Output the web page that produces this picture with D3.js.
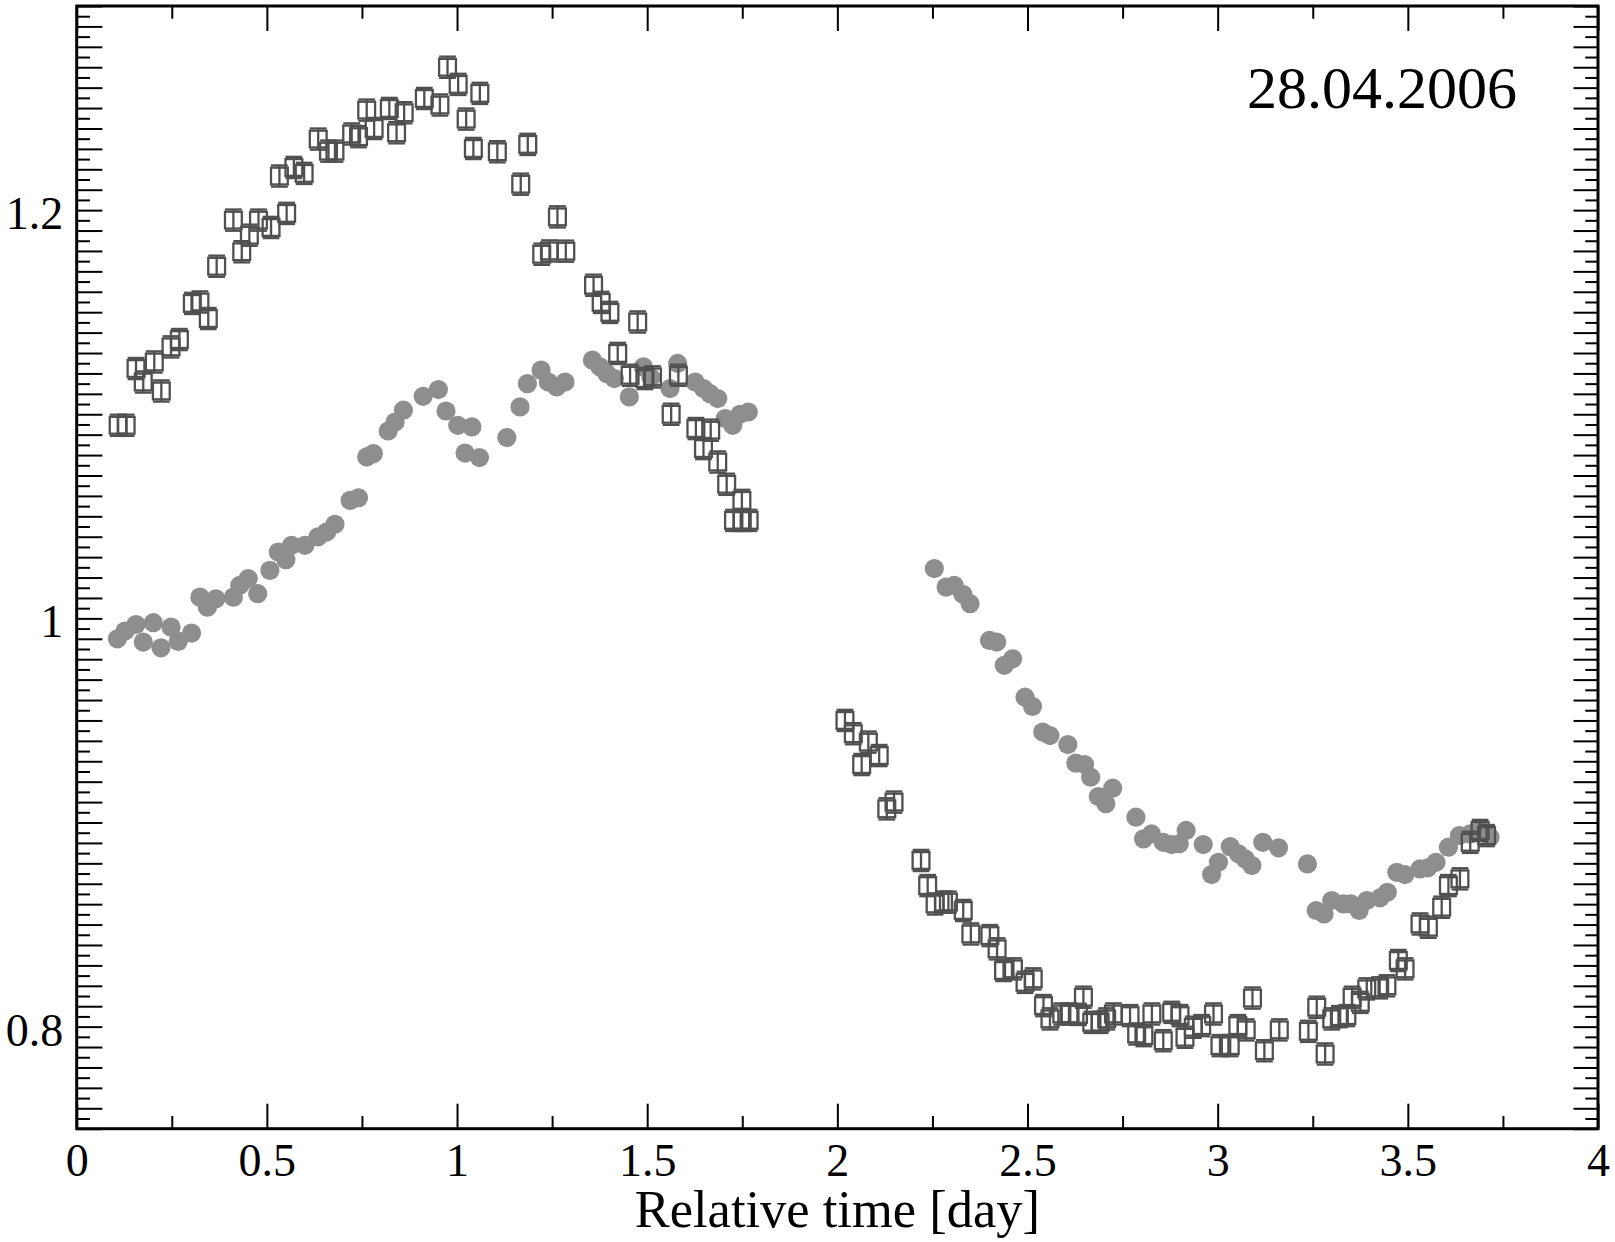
<!DOCTYPE html>
<html><head><meta charset="utf-8">
<script src="https://cdn.jsdelivr.net/npm/d3@7"></script>
<style>html,body{margin:0;padding:0;background:#fff;} svg{display:block;}</style>
</head><body>
<svg id="chart" width="1615" height="1242"></svg>
<script>
// ---- data ----
const squareTime = [0.109,0.130,0.156,0.175,0.204,0.2225,0.248,0.270,0.304,0.324,0.346,0.368,0.412,0.434,0.454,0.478,0.511,0.533,0.552,0.571,0.598,0.635,0.662,0.679,0.723,0.741,0.7625,0.782,0.822,0.841,0.861,0.914,0.955,0.975,1.003,1.024,1.043,1.060,1.106,1.1675,1.186,1.2227,1.243,1.264,1.286,1.359,1.379,1.402,1.4225,1.455,1.475,1.494,1.514,1.563,1.582,1.628,1.648,1.667,1.6855,1.709,1.727,1.749,1.750,1.768,
  2.020,2.042,2.064,2.0815,2.110,2.130,2.149,2.220,2.2375,2.257,2.279,2.292,2.331,2.351,2.401,2.420,2.437,2.463,2.4935,2.515,2.542,2.559,2.590,2.609,2.634,2.647,2.669,2.691,2.708,2.726,2.7696,2.787,2.806,2.827,2.857,2.879,2.901,2.914,2.936,2.958,2.989,3.006,3.033,3.053,3.075,3.0915,3.1228,3.162,3.2385,3.2605,3.2825,3.300,3.320,3.3397,3.3535,3.375,3.392,3.426,3.445,3.475,3.4927,3.532,3.554,3.589,3.6067,3.637,3.664,3.690,3.707];
const squareFlux = [1.0946,1.0946,1.1224,1.1158,1.1256,1.1114,1.133,1.1366,1.1543,1.155,1.1469,1.1725,1.1951,1.1796,1.1877,1.1951,1.1915,1.2167,1.1984,1.2209,1.218,1.2348,1.2289,1.2289,1.2373,1.236,1.249,1.240,1.2498,1.2379,1.2477,1.2547,1.2515,1.270,1.2616,1.2446,1.2302,1.2572,1.2286,1.2127,1.2322,1.1784,1.180,1.1967,1.1799,1.1632,1.1548,1.1499,1.1298,1.1191,1.1452,1.1175,1.1183,1.100,1.1191,1.093,1.0832,1.0922,1.0766,1.0657,1.048,1.0578,1.048,1.048,
  0.950,0.9435,0.9284,0.9394,0.9328,0.9067,0.910,0.8814,0.8691,0.8601,0.861,0.861,0.8569,0.8454,0.8446,0.8381,0.8275,0.8283,0.8217,0.8234,0.8103,0.8038,0.8062,0.8062,0.806,0.8144,0.8021,0.8021,0.8038,0.8062,0.8054,0.7964,0.7956,0.8062,0.7931,0.807,0.8054,0.7948,0.7997,0.8005,0.8062,0.7907,0.7907,0.8005,0.7984,0.814,0.7882,0.7984,0.7977,0.8095,0.7866,0.8038,0.8049,0.8054,0.8144,0.8119,0.8185,0.819,0.820,0.8324,0.8283,0.8503,0.8487,0.8585,0.8691,0.8724,0.8903,0.8961,0.8936];
const squareErr = 0.0052;

const circleTime = [0.107,0.127,0.156,0.175,0.2015,0.2217,0.248,0.267,0.302,0.324,0.3435,0.366,0.412,0.429,0.451,0.476,0.508,0.530,0.550,0.565,0.600,0.634,0.657,0.679,0.719,0.741,0.7625,0.780,0.819,0.837,0.859,0.911,0.951,0.971,1.002,1.021,1.039,1.059,1.131,1.1657,1.185,1.221,1.240,1.262,1.284,1.356,1.376,1.394,1.4137,1.453,1.49,1.51,1.560,1.580,1.626,1.648,1.665,1.6855,1.705,1.725,1.744,1.766,
  2.255,2.286,2.307,2.330,2.349,2.400,2.419,2.439,2.461,2.4935,2.513,2.540,2.559,2.606,2.627,2.650,2.666,2.686,2.706,2.724,2.785,2.805,2.826,2.857,2.879,2.899,2.917,2.962,2.984,3.002,3.033,3.0545,3.072,3.090,3.1185,3.160,3.236,3.259,3.2797,3.300,3.3305,3.350,3.372,3.392,3.427,3.446,3.471,3.4925,3.532,3.5525,3.574,3.6066,3.6355,3.664,3.690,3.716];
const circleFlux = [0.990,0.9938,0.997,0.9884,0.9979,0.9856,0.9957,0.9887,0.9928,1.0104,1.0055,1.0096,1.0104,1.0162,1.0195,1.0121,1.0235,1.0325,1.0288,1.0358,1.0358,1.0399,1.0423,1.0461,1.0578,1.0591,1.0791,1.0807,1.0918,1.0962,1.102,1.1088,1.1121,1.1016,1.0946,1.081,1.0938,1.0788,1.0886,1.1036,1.115,1.1216,1.1158,1.1134,1.1158,1.1265,1.1232,1.1199,1.1175,1.1085,1.1232,1.118,1.1126,1.1249,1.1158,1.1126,1.1101,1.1077,1.0979,1.0946,1.100,1.1011,
  1.0244,1.0153,1.0162,1.0118,1.0072,0.9892,0.9884,0.977,0.9802,0.9614,0.9569,0.9443,0.9426,0.9382,0.9291,0.9284,0.9222,0.9127,0.9092,0.9168,0.9026,0.892,0.8944,0.8903,0.8892,0.8896,0.8961,0.8892,0.8745,0.8805,0.8882,0.8847,0.8822,0.8789,0.8903,0.8876,0.8797,0.8569,0.8552,0.8618,0.8601,0.8601,0.8569,0.8618,0.8631,0.8658,0.8756,0.8745,0.8773,0.8778,0.8805,0.8879,0.8936,0.8944,0.8961,0.8928];

const xTickValues = [0,0.5,1,1.5,2,2.5,3,3.5,4];
const xTickLabels = ["0","0.5","1","1.5","2","2.5","3","3.5","4"];
const yTickValues = [0.8,1.0,1.2];
const yTickLabels = ["0.8","1","1.2"];
const dateLabel = "28.04.2006";
const xTitle = "Relative time [day]";

// ---- layout ----
const FONT = "'Liberation Serif','Times New Roman',Times,serif";
const L = 76.7, R = 1598, T = 6, B = 1128.7;
const x = d3.scaleLinear().domain([0, 4]).range([L, R]);
const y = d3.scaleLinear().domain([0.75, 1.3]).range([B, T]);
const svg = d3.select("#chart");

const xMajor = xTickValues;
const xMinor = d3.range(0, 16).map(i => i * 0.25 + 0.25).filter(v => v < 4 && (v * 2) % 1 !== 0);
const yMajor = d3.range(75, 131).map(i => i / 100);
const yMinor = d3.range(75, 130).map(i => (i + 0.5) / 100);
const labelOf = (vals, labs) => v => { const k = vals.findIndex(u => Math.abs(u - v) < 1e-9); return k < 0 ? "" : labs[k]; };

function styleAxis(g, w) {
  g.select(".domain").remove();
  g.selectAll(".tick line").attr("stroke", "#000").attr("stroke-width", w);
  g.selectAll("text").attr("font-family", FONT).attr("fill", "#000");
}

// bottom
svg.append("g").attr("transform", `translate(0,${B})`)
  .call(d3.axisBottom(x).tickValues(xMinor).tickSizeInner(-12.7).tickFormat(""))
  .call(g => styleAxis(g, 2));
svg.append("g").attr("transform", `translate(0,${B})`)
  .call(d3.axisBottom(x).tickValues(xMajor).tickSizeInner(-25).tickPadding(15).tickFormat(labelOf(xTickValues, xTickLabels)))
  .call(g => styleAxis(g, 2))
  .call(g => g.selectAll("text").attr("font-size", 46));
// top
svg.append("g").attr("transform", `translate(0,${T})`)
  .call(d3.axisTop(x).tickValues(xMinor).tickSizeInner(-12.7).tickFormat(""))
  .call(g => styleAxis(g, 2));
svg.append("g").attr("transform", `translate(0,${T})`)
  .call(d3.axisTop(x).tickValues(xMajor).tickSizeInner(-25).tickFormat(""))
  .call(g => styleAxis(g, 2));
// left
svg.append("g").attr("transform", `translate(${L},0)`)
  .call(d3.axisLeft(y).tickValues(yMinor).tickSizeInner(-13.3).tickFormat(""))
  .call(g => styleAxis(g, 2));
svg.append("g").attr("transform", `translate(${L},0)`)
  .call(d3.axisLeft(y).tickValues(yMajor).tickSizeInner(-25.7).tickPadding(13.4).tickFormat(labelOf(yTickValues, yTickLabels)))
  .call(g => styleAxis(g, 2))
  .call(g => g.selectAll("text").attr("font-size", 46).attr("dy", "0.4em"));
// right
svg.append("g").attr("transform", `translate(${R},0)`)
  .call(d3.axisRight(y).tickValues(yMinor).tickSizeInner(-12.7).tickFormat(""))
  .call(g => styleAxis(g, 2));
svg.append("g").attr("transform", `translate(${R},0)`)
  .call(d3.axisRight(y).tickValues(yMajor).tickSizeInner(-24.5).tickFormat(""))
  .call(g => styleAxis(g, 2));

// frame
svg.append("rect").attr("x", L).attr("y", T).attr("width", R - L).attr("height", B - T)
  .attr("fill", "none").attr("stroke", "#000").attr("stroke-width", 3);

// circles
const circles = circleTime.map((t, i) => ({ t, v: circleFlux[i] }));
svg.append("g").selectAll("circle").data(circles).join("circle")
  .attr("cx", d => x(d.t)).attr("cy", d => y(d.v)).attr("r", 9.6)
  .attr("fill", "#8e8e8e");

// squares with error bars
const squares = squareTime.map((t, i) => ({ t, v: squareFlux[i] }));
const sq = svg.append("g").attr("fill", "none").attr("stroke", "#505050").attr("stroke-width", 2.3);
const hs = 8.4, cw = 8.4;
const gs = sq.selectAll("g").data(squares).join("g");
gs.append("rect").attr("x", d => x(d.t) - hs).attr("y", d => y(d.v) - hs).attr("width", 2 * hs).attr("height", 2 * hs);
gs.append("line").attr("x1", d => x(d.t)).attr("x2", d => x(d.t)).attr("y1", d => y(d.v + squareErr)).attr("y2", d => y(d.v - squareErr));
gs.append("line").attr("x1", d => x(d.t) - cw).attr("x2", d => x(d.t) + cw).attr("y1", d => y(d.v + squareErr)).attr("y2", d => y(d.v + squareErr));
gs.append("line").attr("x1", d => x(d.t) - cw).attr("x2", d => x(d.t) + cw).attr("y1", d => y(d.v - squareErr)).attr("y2", d => y(d.v - squareErr));

// texts
svg.append("text").attr("x", 1517).attr("y", 108.3).attr("text-anchor", "end")
  .attr("font-family", FONT).attr("font-size", 60).text(dateLabel);
svg.append("text").attr("x", (L + R) / 2).attr("y", 1226.7).attr("text-anchor", "middle")
  .attr("font-family", FONT).attr("font-size", 52.5).text(xTitle);
</script>
</body></html>
